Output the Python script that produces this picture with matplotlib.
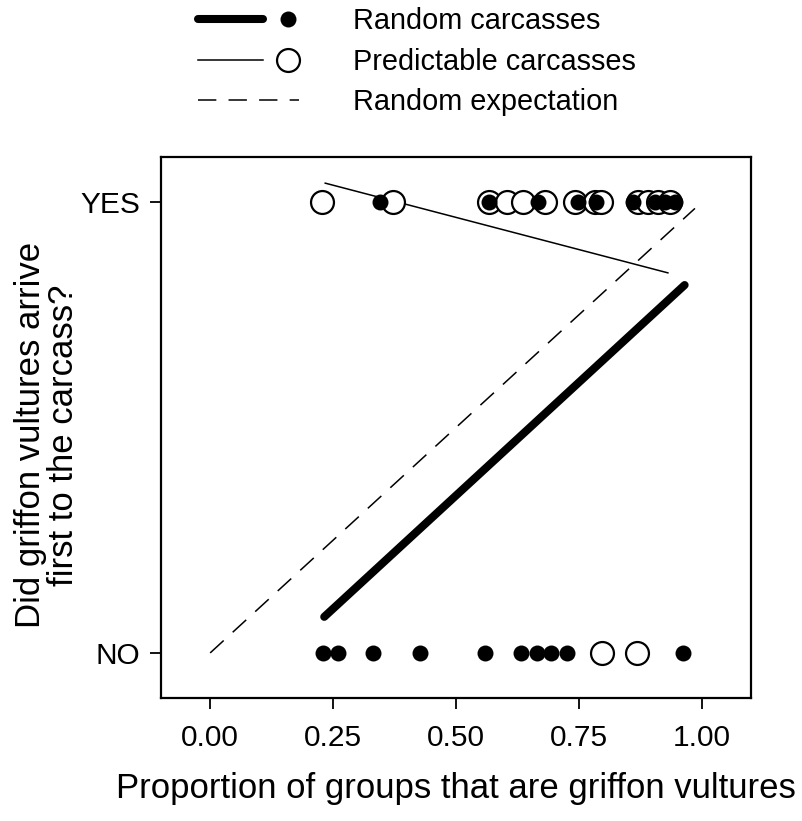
import matplotlib.pyplot as plt
from matplotlib.legend_handler import HandlerBase
from matplotlib.lines import Line2D

plt.rcParams['font.family'] = ['Liberation Sans', 'DejaVu Sans']

# arrivals: 1 = griffon vultures first (YES), 0 = not first (NO)
random_yes = [0.346, 0.567, 0.667, 0.748, 0.785, 0.860, 0.905, 0.925, 0.945]
random_no = [0.230, 0.260, 0.331, 0.426, 0.560, 0.633, 0.665, 0.694, 0.725, 0.961]
pred_yes = [0.227, 0.372, 0.567, 0.603, 0.637, 0.680, 0.742, 0.782, 0.795,
            0.870, 0.890, 0.910, 0.935]
pred_no = [0.797, 0.869]

# fitted probabilities
random_fit_x = [0.232, 0.965]
random_fit_y = [0.080, 0.816]
pred_fit_x = [0.234, 0.931]
pred_fit_y = [1.042, 0.843]
expect_x = [0.0, 0.986]
expect_y = [0.0, 0.986]

xticks = [0.0, 0.25, 0.5, 0.75, 1.0]
xticklabels = ['0.00', '0.25', '0.50', '0.75', '1.00']


class LinePointHandler(HandlerBase):
    # line on the left, point on the right, like R's legend(lwd=, pch=)
    def create_artists(self, legend, orig_handle, xdescent, ydescent,
                       width, height, fontsize, trans):
        line, pt = orig_handle
        y = height / 2 - ydescent
        x0 = -xdescent
        l = Line2D([x0, x0 + 0.64 * width], [y, y])
        l.update_from(line)
        l.set_marker('None')
        p = Line2D([x0 + 0.89 * width], [y])
        p.update_from(pt)
        p.set_linestyle('None')
        l.set_transform(trans)
        p.set_transform(trans)
        return [l, p]


fig = plt.figure(figsize=(8.03, 8.21), dpi=100)
ax = fig.add_axes([161 / 803, 1 - 698 / 821, 590 / 803, 541 / 821])

ax.plot(expect_x, expect_y, color='black', lw=1.1, dashes=(12, 8))
ax.plot(random_fit_x, random_fit_y, color='black', lw=5.8, solid_capstyle='round')
ax.plot(pred_fit_x, pred_fit_y, color='black', lw=1.1)

ax.plot(pred_yes, [1] * len(pred_yes), 'o', ms=16.5, mfc='white', mec='black', mew=1.6)
ax.plot(pred_no, [0] * len(pred_no), 'o', ms=16.5, mfc='white', mec='black', mew=1.6)
ax.plot(random_yes, [1] * len(random_yes), 'o', ms=11.5, color='black', mew=0)
ax.plot(random_no, [0] * len(random_no), 'o', ms=11.5, color='black', mew=0)

ax.set_xlim(-0.1, 1.1)
ax.set_ylim(-0.1, 1.1)
ax.set_xticks(xticks)
ax.set_xticklabels(xticklabels)
ax.set_yticks([0, 1])
ax.set_yticklabels(['NO', 'YES'])
ax.tick_params(labelsize=21.5, length=8, width=1.3)
ax.tick_params(axis='x', pad=11)
ax.tick_params(axis='y', pad=7)
for s in ax.spines.values():
    s.set_linewidth(1.6)

ax.set_xlabel('Proportion of groups that are griffon vultures', fontsize=25)
ax.xaxis.set_label_coords(0.5, -0.136)
ax.set_ylabel('Did griffon vultures arrive\nfirst to the carcass?', fontsize=25,
              linespacing=0.98)
ax.yaxis.set_label_coords(-0.138, 0.486)

h_rand = (Line2D([], [], color='black', lw=5.8, solid_capstyle='round'),
          Line2D([], [], marker='o', ms=11.5, color='black', mew=0))
h_pred = (Line2D([], [], color='black', lw=1.1),
          Line2D([], [], marker='o', ms=16.5, mfc='white', mec='black', mew=1.6))
h_exp = Line2D([], [], color='black', lw=1.1, dashes=(12, 8))

fig.legend([h_rand, h_pred, h_exp],
           ['Random carcasses', 'Predictable carcasses', 'Random expectation'],
           handler_map={tuple: LinePointHandler()},
           loc='upper left', bbox_to_anchor=(198 / 803, 1 - 7 / 821),
           frameon=False, fontsize=20.8, handlelength=3.5, handletextpad=1.85,
           labelspacing=0.44, borderpad=0, borderaxespad=0)

fig.savefig('out.png', dpi=100)
